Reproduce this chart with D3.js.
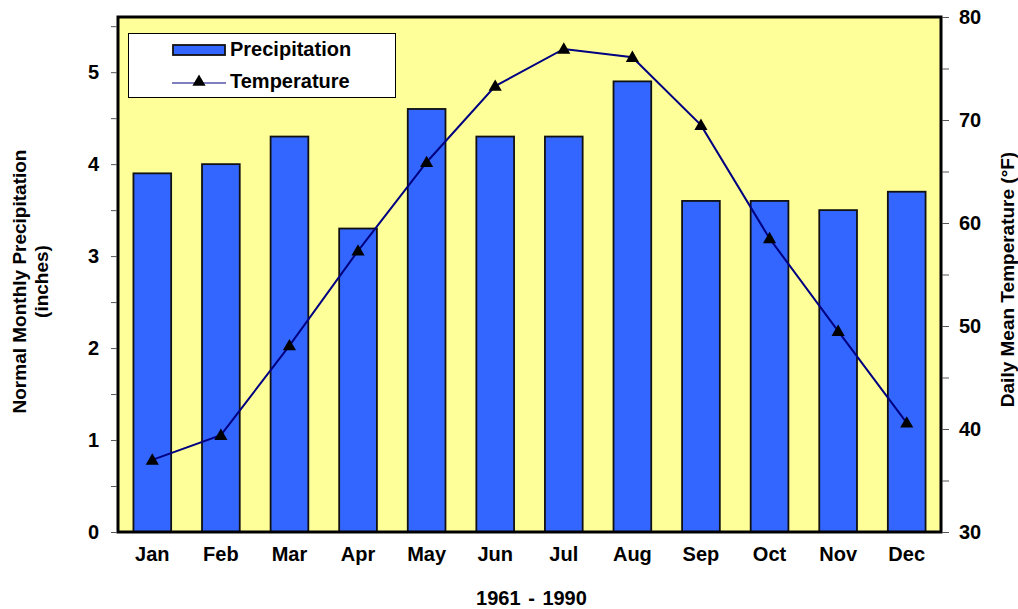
<!DOCTYPE html>
<html>
<head>
<meta charset="utf-8">
<script src="https://cdn.jsdelivr.net/npm/d3@7"></script>
<style>
  html, body { margin: 0; padding: 0; background: #fff; }
  svg { display: block; font-family: "Liberation Sans", Arial, sans-serif; font-weight: bold; }
</style>
</head>
<body>
<svg id="chart" width="1018" height="609"></svg>
<script>
// Monthly normals, 1961 - 1990
const months = ["Jan", "Feb", "Mar", "Apr", "May", "Jun", "Jul", "Aug", "Sep", "Oct", "Nov", "Dec"];
const precipitation = [3.9, 4.0, 4.3, 3.3, 4.6, 4.3, 4.3, 4.9, 3.6, 3.6, 3.5, 3.7];
const temperature = [37.0, 39.4, 48.1, 57.3, 65.9, 73.3, 76.9, 76.1, 69.5, 58.5, 49.5, 40.6];
const precipTicks = [0, 1, 2, 3, 4, 5];
const tempTicks = [30, 40, 50, 60, 70, 80];

const svg = d3.select("#chart");
const plot = { left: 118, right: 941, top: 17, bottom: 532 };
const FONT = "Liberation Sans, Arial, sans-serif";

const x = d3.scaleBand().domain(months).range([plot.left, plot.right]).paddingInner(0.45).paddingOuter(0.225);
const yP = d3.scaleLinear().domain([0, 5.6]).range([plot.bottom, plot.top]);
const yT = d3.scaleLinear().domain([30, 80]).range([plot.bottom, plot.top]);

// plot background
svg.append("rect")
  .attr("x", plot.left).attr("y", plot.top)
  .attr("width", plot.right - plot.left).attr("height", plot.bottom - plot.top)
  .attr("fill", "#FFFF99");

// precipitation bars
svg.append("g").selectAll("rect").data(precipitation).join("rect")
  .attr("x", (d, i) => x(months[i]))
  .attr("y", d => yP(d))
  .attr("width", x.bandwidth())
  .attr("height", d => yP(0) - yP(d))
  .attr("fill", "#3366FF")
  .attr("stroke", "#111")
  .attr("stroke-width", 1.8);

// temperature line
const line = d3.line()
  .x((d, i) => x(months[i]) + x.bandwidth() / 2)
  .y(d => yT(d));
svg.append("path").datum(temperature)
  .attr("d", line)
  .attr("fill", "none")
  .attr("stroke", "#000080")
  .attr("stroke-width", 2);

const tri = d3.symbol().type(d3.symbolTriangle).size(75);
svg.append("g").selectAll("path").data(temperature).join("path")
  .attr("transform", (d, i) => `translate(${x(months[i]) + x.bandwidth() / 2},${yT(d) + 1})`)
  .attr("d", tri)
  .attr("fill", "#000");

// frame
svg.append("rect")
  .attr("x", plot.left).attr("y", plot.top)
  .attr("width", plot.right - plot.left).attr("height", plot.bottom - plot.top)
  .attr("fill", "none").attr("stroke", "#000").attr("stroke-width", 3);

// left axis
const leftAxis = d3.axisLeft(yP).tickValues(d3.range(0, 5.51, 0.5)).tickSize(6).tickPadding(12)
  .tickFormat(d => precipTicks.includes(d) ? d3.format("d")(d) : "");
const gL = svg.append("g").attr("transform", `translate(${plot.left - 1},0)`).call(leftAxis);
gL.select(".domain").remove();
gL.selectAll(".tick line").attr("stroke", "#555");
gL.selectAll(".tick text").attr("font-size", 20).attr("font-weight", "bold").attr("fill", "#000")
  .attr("font-family", FONT);

// right axis
const rightAxis = d3.axisRight(yT).tickValues(d3.range(30, 80.1, 5)).tickSize(7).tickPadding(10)
  .tickFormat(d => tempTicks.includes(d) ? d3.format("d")(d) : "");
const gR = svg.append("g").attr("transform", `translate(${plot.right + 1},0)`).call(rightAxis);
gR.select(".domain").remove();
gR.selectAll(".tick line").attr("stroke", "#555");
gR.selectAll(".tick text").attr("font-size", 20).attr("font-weight", "bold").attr("fill", "#000")
  .attr("font-family", FONT);

// month labels
const bottomAxis = d3.axisBottom(x).tickSize(0).tickPadding(15);
const gB = svg.append("g").attr("transform", `translate(0,${plot.bottom})`).call(bottomAxis);
gB.select(".domain").remove();
gB.selectAll(".tick text").attr("font-size", 20).attr("font-weight", "bold").attr("fill", "#000")
  .attr("font-family", FONT);

// axis titles
svg.append("text")
  .attr("x", (plot.left + plot.right) / 2 + 2).attr("y", 605)
  .attr("text-anchor", "middle").attr("font-size", 20).attr("word-spacing", 2).text("1961 - 1990");

const lt = svg.append("text")
  .attr("transform", `translate(26,${(plot.top + plot.bottom) / 2 + 7}) rotate(-90)`)
  .attr("text-anchor", "middle").attr("font-size", 19);
lt.append("tspan").attr("x", 0).attr("dy", 0).text("Normal Monthly Precipitation");
lt.append("tspan").attr("x", 0).attr("dy", 22).text("(inches)");

svg.append("text")
  .attr("transform", `translate(1014,${(plot.top + plot.bottom) / 2 + 5}) rotate(-90)`)
  .attr("text-anchor", "middle").attr("font-size", 19)
  .text("Daily Mean Temperature (°F)");

// legend
const lg = svg.append("g");
lg.append("rect").attr("x", 128.5).attr("y", 33.5).attr("width", 267).attr("height", 64)
  .attr("fill", "#fff").attr("stroke", "#000").attr("stroke-width", 1);
lg.append("rect").attr("x", 173).attr("y", 45).attr("width", 52).attr("height", 10)
  .attr("fill", "#3366FF").attr("stroke", "#111").attr("stroke-width", 1.8);
lg.append("text").attr("x", 230).attr("y", 56).attr("font-size", 20).text("Precipitation");
lg.append("line").attr("x1", 172).attr("x2", 226).attr("y1", 83).attr("y2", 83)
  .attr("stroke", "#000080").attr("stroke-width", 1.2);
lg.append("path").attr("d", tri).attr("transform", "translate(199,82)").attr("fill", "#000");
lg.append("text").attr("x", 230).attr("y", 88).attr("font-size", 20).text("Temperature");
</script>
</body>
</html>
